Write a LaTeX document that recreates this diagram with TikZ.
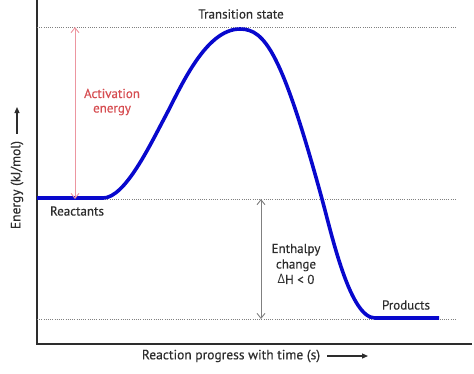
\documentclass[tikz,border=0pt]{standalone}
\usepackage{fontspec}
\setmainfont{PT Sans}[FakeBold=0.35]
\newfontfamily\grkfont{Open Sans}
\usetikzlibrary{arrows.meta}
\usetikzlibrary{calc}

\definecolor{curveblue}{RGB}{8,8,205}
\definecolor{actred}{RGB}{214,78,82}
\definecolor{actpink}{RGB}{236,150,160}
\definecolor{txtgray}{RGB}{45,45,45}

\begin{document}
\begin{tikzpicture}
	[x=1pt,y=-1pt,
	level/.style={gray, line width=0.8pt, dash pattern=on 1pt off 1.2pt},
	lab/.style={text=txtgray, font=\fontsize{13}{14.5}\selectfont, align=center, inner sep=0pt},
	axlab/.style={text=txtgray, font=\fontsize{13.5}{15}\selectfont, inner sep=0pt}];
	\useasboundingbox (0,0) rectangle (474,373);

	%Axis
	\coordinate (o) at (37,344);
	\coordinate (x) at (472,344);
	\coordinate (y) at (37,0);
	\draw[txtgray, line width=1.3pt] (y) -- (o) -- (x);

	%Levels
	\coordinate (ts l) at (37,27);
	\coordinate (ts r) at (457,27);
	\coordinate (re l) at (37,199);
	\coordinate (re r) at (457,199);
	\coordinate (pr l) at (37,319);
	\coordinate (pr r) at (457,319);
	\draw[level] (ts l) -- (ts r);
	\draw[level] (re l) -- (re r);
	\draw[level] (pr l) -- (pr r);

	%Energy curve
	\coordinate (re a) at (37,198);
	\coordinate (re b) at (103,198);
	\coordinate (peak) at (240,29);
	\coordinate (pr a) at (375,318);
	\coordinate (pr b) at (439,318);
	\draw[curveblue, line width=3.6pt] (re a) -- (re b) .. controls (125,198) and (150,145) .. (165,117)
		.. controls (180,89) and (205,29) .. (peak)
		.. controls (265,29) and (282,53) .. (322,199)
		.. controls (332,235.5) and (350,318) .. (pr a) -- (pr b);

	%Activation energy
	\coordinate (act top) at (75,27);
	\coordinate (act bot) at (75,199);
	\draw[actpink, line width=0.9pt, {Straight Barb[length=5pt,width=8pt]}-{Straight Barb[length=5pt,width=8pt]}] (act top) -- (act bot);
	\node[lab, text=actred] (act) at (112,102) {Activation\\energy};

	%Enthalpy change
	\coordinate (dh top) at (261,199);
	\coordinate (dh bot) at (261,319);
	\draw[gray, line width=0.9pt, {Straight Barb[length=5pt,width=8pt]}-{Straight Barb[length=5pt,width=8pt]}] (dh top) -- (dh bot);
	\node[lab] (dh) at (296,264) {Enthalpy\\[1pt]change\\[1pt]{\grkfont Δ}H < 0};

	\node[lab] (ts) at (241,14) {Transition state};
	\node[lab] (react) at (77,211) {Reactants};
	\node[lab] (prod) at (406,305) {Products};

	%Axis labels
	\node[axlab] (xlab) at (231,356) {Reaction progress with time (s)};
	\coordinate (x tip) at (368,356);
	\draw[txtgray, line width=1.2pt, -{Stealth[length=6pt,width=5pt,inset=0pt]}] ($(xlab.east)+(7,0)$) -- (x tip);
	\node[axlab, rotate=90] (ylab) at (17,185) {Energy (kJ/mol)};
	\coordinate (y tip) at (17,107);
	\draw[txtgray, line width=1.2pt, -{Stealth[length=6pt,width=5pt,inset=0pt]}] ($(ylab.east)+(0,-7)$) -- (y tip);
\end{tikzpicture}
\end{document}
